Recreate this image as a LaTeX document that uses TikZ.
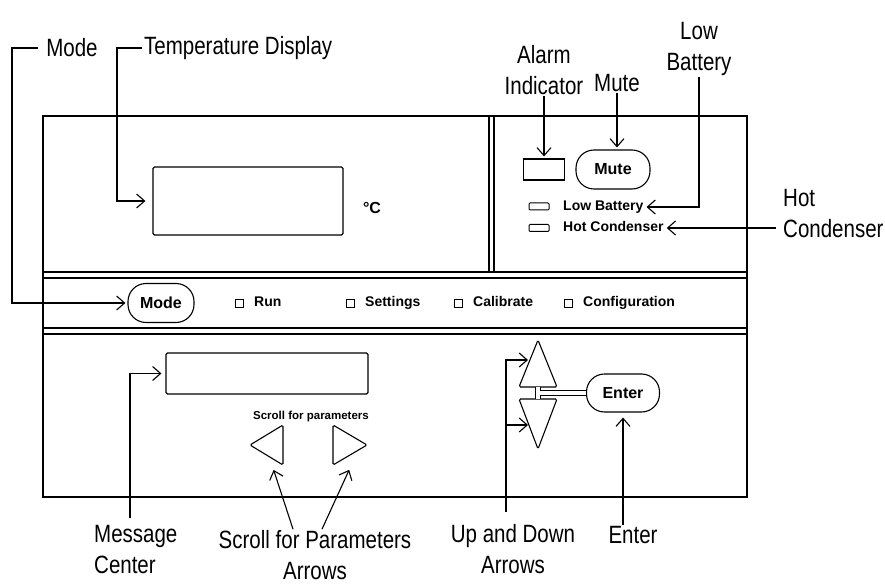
\documentclass[tikz,border=0pt]{standalone}
\usepackage{fontspec}
\setmainfont{Liberation Sans}
\newfontfamily\calloutfont[FakeStretch=0.82]{Liberation Sans}
\usetikzlibrary{positioning,arrows.meta,calc}

\begin{document}
\begin{tikzpicture}[x=1pt,y=-1pt,
  callout/.style={font=\calloutfont\fontsize{25}{31}\selectfont, inner sep=1pt, align=center},
  lead/.style={line width=1.1pt, -{Straight Barb[length=8pt,width=14pt]}, shorten >=2pt},
  panel/.style={line width=1.3pt},
  btn/.style={draw, line width=1.1pt, rounded corners=18pt, minimum width=74pt,
              minimum height=39pt, font=\bfseries\fontsize{16}{18}\selectfont},
  tag/.style={font=\bfseries\fontsize{14}{16}\selectfont, inner sep=1pt,
              text height=9pt, text depth=2pt},
  led/.style={draw, line width=1pt, minimum width=8pt, minimum height=8pt, inner sep=0pt},
  screen/.style={draw, line width=1.2pt, rounded corners=1.5pt},
  keytri/.style={line width=1.1pt, rounded corners=1.5pt}]

  \useasboundingbox (0,0) rectangle (885,585);

  % front panel
  \draw[panel] (43,116) rectangle (747,497);
  \draw[panel] (43,272) -- (747,272) (43,278) -- (747,278)
               (43,328) -- (747,328) (43,334) -- (747,334)
               (489,116) -- (489,272) (494,116) -- (494,272);

  % temperature display
  \node[screen, minimum width=190pt, minimum height=68pt] (tempdisp) at (248,201) {};
  \node[font=\bfseries\fontsize{16}{18}\selectfont] (degc) at (372,208) {°C};

  % alarm section
  \node[draw, line width=1.1pt, minimum width=41pt, minimum height=21pt, inner sep=0pt] (alarmled) at (544,169.5) {};
  \node[btn] (mutebtn) at (613,169.5) {Mute};
  \node[led, minimum width=20pt, minimum height=7pt, rounded corners=1pt] (lowled) at (539,206.5) {};
  \node[tag, anchor=west] (lowtxt) at (562,207) {Low Battery};
  \node[led, minimum width=20pt, minimum height=7pt, rounded corners=1pt] (hotled) at (539,228) {};
  \node[tag, anchor=west] (hottxt) at (562,228) {Hot Condenser};

  % mode strip
  \node[btn, minimum width=66pt] (modebtn) at (161,303) {Mode};
  \node[led] (runled) at (239.5,303) {};
  \node[tag, right=9pt of runled] (runtxt) {Run};
  \node[led] (setled) at (350.5,303) {};
  \node[tag, right=9pt of setled] (settxt) {Settings};
  \node[led] (called) at (458.5,303) {};
  \node[tag, right=9pt of called] (caltxt) {Calibrate};
  \node[led] (cfgled) at (568.5,303) {};
  \node[tag, right=9pt of cfgled] (cfgtxt) {Configuration};

  % message center and keys
  \node[screen, minimum width=202pt, minimum height=41pt] (msgdisp) at (267,373.5) {};
  \node[tag, font=\bfseries\fontsize{11.5}{13}\selectfont] (scrolltxt) at (311,416) {Scroll for parameters};
  \draw[keytri] (250,445) -- (283,425) -- (283,465) -- cycle;
  \draw[keytri] (333,425) -- (367,445) -- (333,465) -- cycle;
  \draw[keytri] (538,340) -- (557,387) -- (519,387) -- cycle;
  \draw[keytri] (519,399) -- (557,399) -- (538,449) -- cycle;
  \node[btn, minimum width=73pt, minimum height=38pt] (enterbtn) at (623,393) {Enter};
  \draw[line width=0.9pt, double distance=4pt] (538,387) -- (538,399);
  \draw[line width=0.9pt, double distance=4pt] (540,393) -- (enterbtn.west);

  % callouts
  \node[callout] (modelbl) at (72,48) {Mode};
  \node[callout, anchor=west] (templbl) at (143,48) {Temperature Display};
  \node[callout] (alarmlbl) at (544,70) {Alarm\\Indicator};
  \node[callout] (mutelbl) at (617,83) {Mute};
  \node[callout] (lowlbl) at (699,49) {Low\\Battery};
  \node[callout, align=left, anchor=west] (hotlbl) at (782,214) {Hot\\Condenser};
  \node[callout, align=left, anchor=west] (msglbl) at (93,550) {Message\\Center};
  \node[callout] (scrolllbl) at (315,555) {Scroll for Parameters\\Arrows};
  \node[callout] (udlbl) at (513,549) {Up and Down\\Arrows};
  \node[callout] (enterlbl) at (633,535) {Enter};

  \coordinate (modebend) at (12,303);
  \coordinate (tempbend) at (117,201);
  \coordinate (msgfoot) at (130,518);
  \coordinate (scrollL) at (273,468);
  \coordinate (scrollR) at (350,468);
  \coordinate (udfoot) at (506,512);
  \coordinate (upkey) at (530,360);
  \coordinate (downkey) at (530,425);

  \draw[lead] ([xshift=-7pt]modelbl.west) -| (modebend) -- (modebtn.west);
  \draw[lead, shorten >=7pt] ([xshift=-1pt]templbl.west) -| (tempbend) -- (tempdisp.west);
  \draw[lead] (alarmlbl.south -| alarmled.north) -- (alarmled.north);
  \draw[lead] (mutelbl.south) -- (mutelbl.south |- mutebtn.north);
  \draw[lead] (lowlbl.south) |- (lowtxt.east);
  \draw[lead] ([xshift=-6pt]hotlbl.west |- hottxt.east) -- (hottxt.east);
  \draw[lead] (msgfoot) |- ([xshift=-2pt]msgdisp.west);
  \draw[lead] ([xshift=-22pt]scrolllbl.north) -- (scrollL);
  \draw[lead] ([xshift=7pt]scrolllbl.north) -- (scrollR);
  \draw[lead] (udfoot) |- (upkey);
  \draw[lead] (udfoot |- downkey) -- (downkey);
  \draw[lead, shorten >=5pt] (enterbtn.south |- enterlbl.north) -- (enterbtn.south);
\end{tikzpicture}
\end{document}
